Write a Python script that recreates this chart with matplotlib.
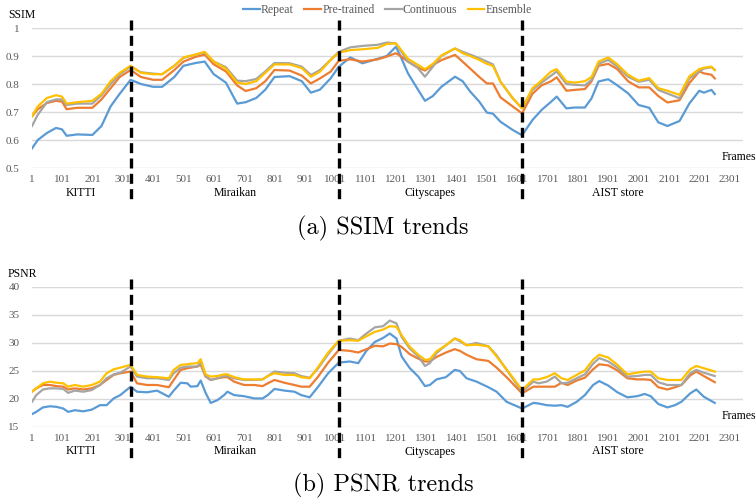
import numpy as np
import matplotlib
matplotlib.use("Agg")
import matplotlib.pyplot as plt
import matplotlib.transforms as mtransforms

# ---- data ----
series_names = ["Repeat", "Pre-trained", "Continuous", "Ensemble"]
series_colors = ["#5B9BD5", "#ED7D31", "#A5A5A5", "#FFC000"]

datasets = ["KITTI", "Miraikan", "Cityscapes", "AIST store"]
dataset_label_x = [163, 669, 1314, 1933]
boundaries = [326, 1012, 1616]
xtick_vals = list(range(1, 2302, 100))

ssim_frames = [1, 20, 50, 80, 100, 115, 150, 200, 230, 260, 290, 326, 360, 400, 430,
               470, 500, 540, 570, 600, 640, 677, 705, 740, 770, 800, 850, 890, 920,
               950, 985, 1012, 1050, 1090, 1140, 1170, 1200, 1215, 1240, 1270, 1296,
               1322, 1350, 1395, 1420, 1445, 1475, 1500, 1520, 1545, 1585, 1616, 1650,
               1680, 1712, 1730, 1762, 1790, 1823, 1845, 1868, 1900, 1930, 1965, 2000,
               2035, 2065, 2095, 2135, 2167, 2200, 2215, 2240, 2251]

ssim_repeat = [0.57, 0.60, 0.625, 0.643, 0.638, 0.615, 0.62, 0.618, 0.65, 0.72, 0.765,
               0.815, 0.80, 0.79, 0.79, 0.825, 0.865, 0.875, 0.88, 0.835, 0.805, 0.73,
               0.735, 0.75, 0.78, 0.825, 0.828, 0.81, 0.769, 0.78, 0.82, 0.862, 0.895,
               0.874, 0.89, 0.90, 0.933, 0.90, 0.838, 0.785, 0.74, 0.757, 0.79, 0.826,
               0.81, 0.773, 0.737, 0.698, 0.694, 0.665, 0.636, 0.617, 0.671, 0.707,
               0.737, 0.755, 0.713, 0.716, 0.716, 0.749, 0.809, 0.817, 0.795, 0.767,
               0.725, 0.715, 0.663, 0.65, 0.668, 0.73, 0.776, 0.769, 0.779, 0.764]

ssim_pretrained = [0.685, 0.71, 0.732, 0.74, 0.737, 0.71, 0.715, 0.715, 0.745, 0.785,
                   0.825, 0.85, 0.825, 0.815, 0.815, 0.85, 0.88, 0.897, 0.905, 0.87,
                   0.845, 0.795, 0.775, 0.785, 0.81, 0.85, 0.848, 0.83, 0.802, 0.82,
                   0.844, 0.883, 0.888, 0.88, 0.888, 0.898, 0.91, 0.90, 0.88, 0.86,
                   0.848, 0.868, 0.885, 0.904, 0.88, 0.855, 0.825, 0.802, 0.802, 0.752,
                   0.72, 0.695, 0.765, 0.795, 0.81, 0.824, 0.776, 0.779, 0.782, 0.81,
                   0.865, 0.872, 0.853, 0.81, 0.788, 0.788, 0.757, 0.734, 0.742, 0.803,
                   0.845, 0.838, 0.833, 0.82]

ssim_continuous = [0.65, 0.69, 0.735, 0.745, 0.745, 0.725, 0.73, 0.73, 0.76, 0.80,
                   0.835, 0.862, 0.842, 0.837, 0.835, 0.865, 0.893, 0.905, 0.912, 0.88,
                   0.86, 0.812, 0.81, 0.818, 0.845, 0.875, 0.874, 0.862, 0.832, 0.85,
                   0.886, 0.915, 0.931, 0.936, 0.94, 0.948, 0.945, 0.92, 0.88, 0.86,
                   0.826, 0.862, 0.90, 0.927, 0.915, 0.905, 0.892, 0.88, 0.87, 0.808,
                   0.749, 0.713, 0.779, 0.805, 0.83, 0.845, 0.80, 0.797, 0.795, 0.815,
                   0.872, 0.886, 0.862, 0.826, 0.808, 0.815, 0.779, 0.766, 0.749, 0.82,
                   0.845, 0.855, 0.86, 0.85]

ssim_ensemble = [0.685, 0.72, 0.75, 0.76, 0.755, 0.73, 0.735, 0.74, 0.765, 0.81, 0.84,
                 0.865, 0.84, 0.835, 0.835, 0.865, 0.895, 0.905, 0.915, 0.88, 0.855,
                 0.805, 0.80, 0.81, 0.84, 0.87, 0.87, 0.857, 0.826, 0.844, 0.886, 0.912,
                 0.921, 0.924, 0.929, 0.943, 0.945, 0.925, 0.89, 0.87, 0.853, 0.872,
                 0.902, 0.927, 0.91, 0.90, 0.886, 0.872, 0.865, 0.808, 0.75, 0.713,
                 0.785, 0.812, 0.845, 0.853, 0.809, 0.805, 0.81, 0.825, 0.88, 0.895,
                 0.87, 0.833, 0.812, 0.821, 0.785, 0.776, 0.761, 0.827, 0.853, 0.858,
                 0.862, 0.85]

psnr_frames = [1, 15, 37, 60, 82, 104, 120, 142, 170, 198, 225, 247, 270, 292, 326,
               347, 380, 413, 452, 468, 491, 513, 524, 546, 557, 573, 590, 612, 634,
               645, 667, 700, 734, 761, 778, 800, 833, 866, 888, 916, 944, 977, 1012,
               1048, 1076, 1103, 1131, 1158, 1180, 1202, 1219, 1246, 1274, 1296, 1312,
               1334, 1365, 1394, 1411, 1433, 1466, 1505, 1532, 1565, 1616, 1653, 1670,
               1697, 1724, 1746, 1766, 1796, 1823, 1850, 1870, 1900, 1930, 1963, 1995,
               2020, 2040, 2065, 2095, 2120, 2141, 2170, 2190, 2215, 2251]

psnr_repeat = [17.3, 17.7, 18.5, 18.7, 18.6, 18.3, 17.7, 18.0, 17.8, 18.1, 18.9, 18.9,
               20.1, 20.7, 22.2, 21.3, 21.2, 21.5, 20.4, 21.5, 22.9, 22.8, 22.2, 22.3,
               23.3, 21.1, 19.3, 19.8, 20.7, 21.3, 20.7, 20.5, 20.1, 20.1, 20.7, 21.8,
               21.5, 21.3, 20.7, 20.3, 22.2, 24.6, 26.5, 26.7, 26.4, 28.6, 30.2, 30.9,
               31.7, 30.8, 27.6, 25.5, 24.0, 22.3, 22.5, 23.5, 23.9, 25.2, 25.0, 23.7,
               23.1, 22.1, 21.3, 19.5, 18.3, 19.3, 19.2, 18.9, 18.8, 18.9, 18.6, 19.5,
               20.7, 22.5, 23.2, 22.4, 21.2, 20.3, 20.5, 20.9, 20.5, 19.1, 18.5, 18.9,
               19.5, 21.0, 21.7, 20.4, 19.3]

psnr_pretrained = [21.3, 21.9, 22.5, 22.5, 22.3, 22.2, 21.7, 21.9, 21.7, 21.9, 22.5,
                   23.4, 24.3, 24.6, 24.9, 22.8, 22.5, 22.5, 22.1, 23.4, 25.2, 25.5,
                   25.6, 25.8, 26.1, 24.0, 23.4, 23.7, 23.9, 23.9, 23.1, 22.5, 22.5,
                   22.3, 22.8, 23.4, 22.9, 22.5, 22.2, 22.2, 24.0, 26.5, 28.75, 28.6,
                   28.3, 28.9, 29.5, 29.4, 29.9, 29.8, 29.3, 28.0, 27.2, 26.7, 26.7,
                   27.5, 28.3, 28.9, 28.6, 27.9, 27.1, 26.8, 25.6, 23.9, 21.0, 22.2,
                   22.2, 22.2, 22.2, 22.9, 22.5, 23.3, 23.8, 25.3, 26.2, 26.0, 25.1,
                   23.7, 23.5, 23.5, 23.4, 22.1, 21.7, 22.1, 22.5, 24.2, 24.9, 24.1, 23.0]

psnr_continuous = [19.5, 20.7, 21.7, 21.9, 21.9, 21.8, 21.1, 21.5, 21.3, 21.6, 22.5,
                   23.7, 24.4, 24.7, 25.8, 24.0, 23.7, 23.7, 23.4, 24.6, 25.6, 25.8,
                   25.8, 25.8, 26.5, 24.1, 23.4, 23.7, 24.1, 24.1, 23.7, 23.4, 23.4,
                   23.5, 24.1, 24.9, 24.7, 24.6, 24.1, 23.8, 25.5, 28.0, 30.4, 30.8,
                   30.5, 31.7, 32.8, 33.0, 34.0, 33.5, 31.1, 29.0, 27.6, 25.9, 26.4,
                   28.2, 29.6, 30.8, 30.3, 29.6, 30.0, 29.4, 27.8, 25.2, 21.3, 23.1,
                   22.8, 23.1, 24.0, 22.8, 22.9, 23.7, 24.4, 26.3, 27.3, 26.7, 25.6,
                   24.0, 24.1, 24.3, 24.3, 23.0, 22.5, 22.5, 22.5, 24.6, 25.2, 24.7, 24.1]

psnr_ensemble = [21.3, 21.9, 22.8, 23.1, 22.9, 22.8, 22.2, 22.5, 22.2, 22.5, 23.1,
                 24.6, 25.3, 25.6, 26.1, 24.3, 24.0, 23.9, 23.7, 25.2, 26.1, 26.2,
                 26.3, 26.4, 27.1, 24.4, 24.0, 24.1, 24.4, 24.4, 23.9, 23.5, 23.5,
                 23.5, 24.1, 24.6, 24.3, 24.3, 23.9, 23.7, 25.7, 28.3, 30.4, 30.5,
                 30.4, 31.2, 32.0, 32.4, 33.0, 32.9, 31.4, 29.3, 27.9, 27.0, 27.1,
                 28.5, 29.6, 30.8, 30.5, 29.6, 29.7, 29.4, 27.6, 25.3, 21.6, 23.5,
                 23.5, 23.9, 24.6, 23.7, 23.4, 24.3, 25.1, 27.0, 27.9, 27.4, 26.1,
                 24.4, 24.7, 24.9, 24.9, 23.7, 23.4, 23.4, 23.4, 25.3, 25.9, 25.5, 24.9]

ssim_yticks = [0.5, 0.6, 0.7, 0.8, 0.9, 1.0]
psnr_yticks = [15, 20, 25, 30, 35, 40]

# ---- styling ----
SERIF = ["Liberation Serif", "DejaVu Serif"]
TICK_GRAY = "#595959"
W, H = 756, 500

fig = plt.figure(figsize=(W / 100, H / 100), dpi=100)


def px_axes(left, top, right, bottom):
    return fig.add_axes([left / W, 1 - bottom / H, (right - left) / W, (bottom - top) / H])


def draw_panel(ax, frames, all_series, yticks, ylabel, caption, caption_y):
    for vals, name, col in zip(all_series, series_names, series_colors):
        ax.plot(frames, vals, color=col, lw=1.6, label=name, solid_joinstyle="round", zorder=3)
    ax.set_xlim(1, 2344)
    ax.set_ylim(yticks[0], yticks[-1])
    ax.set_yticks(yticks)
    ax.set_yticklabels([f"{v:g}" for v in yticks])
    ax.set_xticks(xtick_vals)
    ax.set_xticklabels([str(v) for v in xtick_vals])
    ax.tick_params(length=0, labelsize=8, labelcolor=TICK_GRAY, pad=5)
    ax.tick_params(axis="y", pad=9)
    for lab in ax.get_xticklabels() + ax.get_yticklabels():
        lab.set_family(SERIF)
    ax.grid(axis="y", color="#D9D9D9", lw=1.0)
    ax.set_axisbelow(True)
    for s in ax.spines.values():
        s.set_visible(False)

    # dataset boundaries, running past the axes down through the labels
    trans = mtransforms.blended_transform_factory(ax.transData, ax.transAxes)
    for b in boundaries:
        ax.plot([b, b], [1.06, -0.25], transform=trans, color="black", lw=2.4,
                ls=(0, (3, 1.6)), clip_on=False, zorder=5)
    for name, xc in zip(datasets, dataset_label_x):
        ax.text(xc, -0.175, name, transform=trans, ha="center", va="center",
                fontsize=8.5, family=SERIF, color="black")
    ax.text(0.970, 0.08, "Frames", transform=ax.transAxes, ha="left", va="center",
            fontsize=8.5, family=SERIF, color="black")
    ax.text(-0.034, 1.09, ylabel, transform=ax.transAxes, ha="left", va="center",
            fontsize=8.5, family=SERIF, color="black")
    fig.text(383 / W, 1 - caption_y / H, caption, ha="center", va="center",
             fontsize=17.5, family="cmr10")


ax1 = px_axes(32, 28, 743, 168)
ax2 = px_axes(32, 287, 743, 427)

draw_panel(ax1, ssim_frames, [ssim_repeat, ssim_pretrained, ssim_continuous, ssim_ensemble],
           ssim_yticks, "SSIM", "(a) SSIM trends", 228)
draw_panel(ax2, psnr_frames, [psnr_repeat, psnr_pretrained, psnr_continuous, psnr_ensemble],
           psnr_yticks, "PSNR", "(b) PSNR trends", 485)

leg = ax1.legend(loc="center", bbox_to_anchor=(0.5, 1 + 18 / 140), ncol=4,
                 frameon=False, handlelength=1.4, handletextpad=0.1, columnspacing=0.9,
                 prop={"family": SERIF, "size": 8.5})
for t in leg.get_texts():
    t.set_color(TICK_GRAY)

fig.savefig("out.png", dpi=100)
